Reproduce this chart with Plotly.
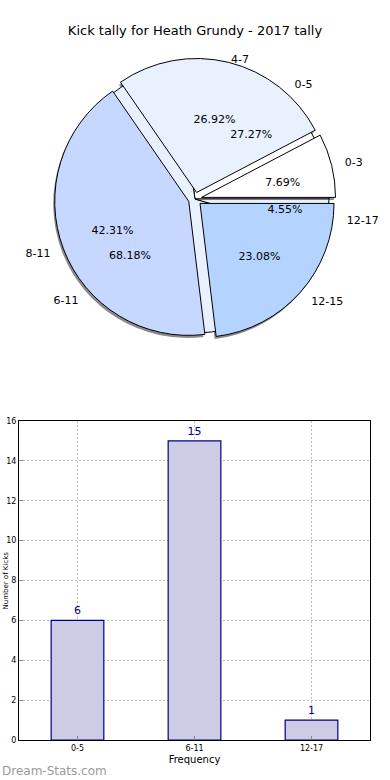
import plotly.graph_objects as go

# ---------------- data ----------------
chart_title = "Kick tally for Heath Grundy - 2017 tally"
pie1_labels = ["0-3", "4-7", "8-11", "12-15"]
pie1_counts = [2, 7, 11, 6]
pie2_labels = ["0-5", "6-11", "12-17"]
pie2_counts = [6, 15, 1]
bar_categories = ["0-5", "6-11", "12-17"]
bar_values = [6, 15, 1]
y_ticks = [0, 2, 4, 6, 8, 10, 12, 14, 16]
x_title = "Frequency"
y_title = "Number of Kicks"
watermark = "Dream-Stats.com"

# ---------------- styling / layout ----------------
W, H = 390, 780
CX, CY = 195, 199
R = 134
PULL = 0.05
FONT = "DejaVu Sans"
BAR_TOP, BAR_BOTTOM = 421, 740

pie1_colors = ["#FFFFFF", "#E9F0FE", "#C6D8FF", "#B4D4FF"]
pie2_colors = ["#FFFFFF", "#E9F0FE", "#E9F0FE"]

# text placement groups: (slice index set, textposition, radius of the invisible carrier pie)
pie1_pct_groups = [({1, 3}, "inside", 143), ({2}, "inside", 174), ({0}, "outside", 69)]
pie2_pct_groups = [({0}, "inside", 151), ({1}, "inside", 172), ({2}, "outside", 70)]
pie1_lab_groups = [({1}, "outside", 137), ({0, 2, 3}, "outside", 151)]
pie2_lab_groups = [({0}, "outside", 147), ({1, 2}, "outside", 150)]


def dom(cx, cy, half):
    return dict(x=[(cx - half) / W, (cx + half) / W],
                y=[1 - (cy + half) / H, 1 - (cy - half) / H])


def start_rot(vals):
    # plotly counterclockwise: first slice ends at `rotation`; make it start at 3 o'clock
    return 90 - 360.0 * vals[0] / sum(vals)


common = dict(sort=False, direction="counterclockwise",
              showlegend=False, hoverinfo="skip")

fig = go.Figure()

# shadow
fig.add_trace(go.Pie(labels=pie1_labels, values=pie1_counts, pull=[PULL] * 4,
                     rotation=start_rot(pie1_counts),
                     domain=dom(CX - 1.5, CY + 2.5, R * (1 + PULL)),
                     marker=dict(colors=["#8a8a8a"] * 4, line=dict(width=0)),
                     textinfo="none", **common))
# second pie (underneath)
fig.add_trace(go.Pie(labels=pie2_labels, values=pie2_counts,
                     rotation=start_rot(pie2_counts),
                     domain=dom(CX, CY, R),
                     marker=dict(colors=pie2_colors, line=dict(color="black", width=1)),
                     textinfo="none", **common))
# first pie (on top, exploded)
fig.add_trace(go.Pie(labels=pie1_labels, values=pie1_counts, pull=[PULL] * 4,
                     rotation=start_rot(pie1_counts),
                     domain=dom(CX, CY, R * (1 + PULL)),
                     marker=dict(colors=pie1_colors, line=dict(color="black", width=1)),
                     textinfo="none", **common))


def add_text_pie(labels, values, groups, template):
    for idx, pos, radius in groups:
        fig.add_trace(go.Pie(
            labels=labels, values=values, rotation=start_rot(values),
            domain=dom(CX, CY, radius),
            marker=dict(colors=["rgba(0,0,0,0)"] * len(values), line=dict(width=0)),
            texttemplate=[template if i in idx else "" for i in range(len(values))],
            textposition=pos, insidetextorientation="horizontal",
            textfont=dict(family=FONT, size=11, color="black"),
            insidetextfont=dict(family=FONT, size=11, color="black"),
            outsidetextfont=dict(family=FONT, size=11, color="black"),
            **common))


add_text_pie(pie1_labels, pie1_counts, pie1_pct_groups, "%{percent:.2%}")
add_text_pie(pie2_labels, pie2_counts, pie2_pct_groups, "%{percent:.2%}")
add_text_pie(pie1_labels, pie1_counts, pie1_lab_groups, "%{label}")
add_text_pie(pie2_labels, pie2_counts, pie2_lab_groups, "%{label}")

# bar chart
fig.add_trace(go.Bar(x=bar_categories, y=bar_values, width=0.45,
                     marker=dict(color="#CCCCE5", line=dict(color="#000080", width=1.2)),
                     texttemplate="%{y}", textposition="outside",
                     textfont=dict(family=FONT, size=11, color="#000080"),
                     cliponaxis=False, showlegend=False, hoverinfo="skip"))

grid = dict(showgrid=True, gridcolor="#bdbdbd", griddash="2px,2px", gridwidth=1)
fig.update_layout(
    width=W, height=H,
    margin=dict(l=0, r=0, t=0, b=0, pad=0),
    paper_bgcolor="white", plot_bgcolor="white",
    font=dict(family=FONT, color="black"),
    title=dict(text=chart_title, x=0.5, xanchor="center", y=1 - 30 / H,
               yanchor="middle", font=dict(family=FONT, size=13, color="black")),
    xaxis=dict(domain=[19 / W, 370 / W], type="category", range=[-0.5, 2.5],
               automargin=False,
               showline=True, linecolor="black", linewidth=1, mirror=True,
               ticks="inside", ticklen=4, tickcolor="#888",
               tickfont=dict(size=8, family=FONT),
               title=dict(text=x_title, font=dict(size=10, family=FONT), standoff=4),
               **grid),
    yaxis=dict(domain=[1 - BAR_BOTTOM / H, 1 - BAR_TOP / H], range=[0, 16], tickvals=y_ticks,
               automargin=False,
               showline=True, linecolor="black", linewidth=1, mirror=True,
               ticks="inside", ticklen=4, tickcolor="#888",
               tickfont=dict(size=8, family=FONT), zeroline=False,
               **grid),
    annotations=[
        dict(text=watermark, x=0, y=1 - 771 / H, xref="paper", yref="paper",
             xanchor="left", yanchor="middle", showarrow=False,
             font=dict(family=FONT, size=12, color="#9a9a9a")),
        # y-axis title squeezed into the narrow strip left of the tick labels
        dict(text=y_title, x=0, y=1 - (BAR_TOP + BAR_BOTTOM) / 2 / H,
             xref="paper", yref="paper", xanchor="left", yanchor="middle",
             textangle=-90, showarrow=False, borderpad=0,
             font=dict(family=FONT, size=7, color="black")),
    ],
)

fig.write_html("out.html", config={"displayModeBar": False},
               post_script="document.body.style.margin='0';document.body.style.overflow='hidden';")
